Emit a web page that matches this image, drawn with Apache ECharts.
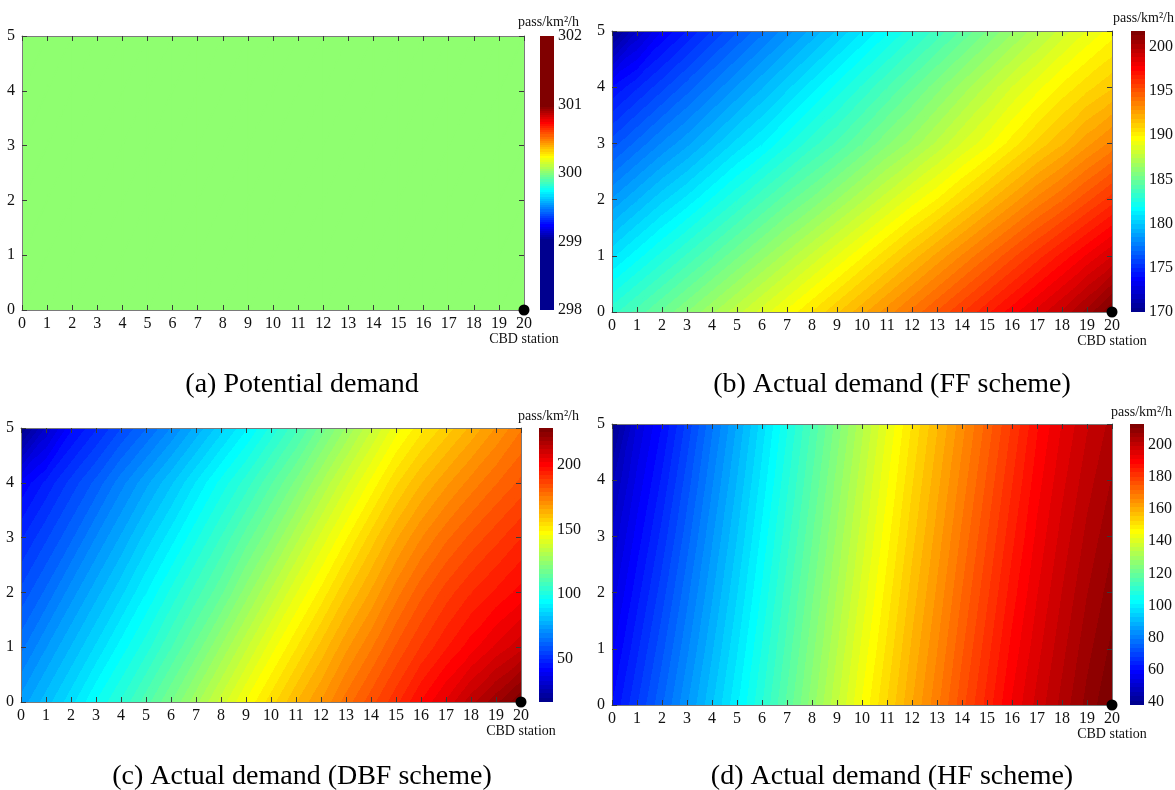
<!DOCTYPE html>
<html>
<head>
<meta charset="utf-8">
<title>Demand distribution</title>
<script src="https://cdn.jsdelivr.net/npm/echarts@6/dist/echarts.min.js"></script>
<style>
  html, body { margin: 0; padding: 0; background: #fff; }
  #chart { width: 1175px; height: 790px; }
</style>
</head>
<body>
<div id="chart"></div>
<script>
// Grid nodes of the corridor (km)
const xTicks = [0, 1, 2, 3, 4, 5, 6, 7, 8, 9, 10, 11, 12, 13, 14, 15, 16, 17, 18, 19, 20];
const yTicks = [0, 1, 2, 3, 4, 5];
const stationPos = [20, 0];

// Demand at the grid nodes, one row per yTicks value (first row is y = 0)
const demandA = [
  [300, 300, 300, 300, 300, 300, 300, 300, 300, 300, 300, 300, 300, 300, 300, 300, 300, 300, 300, 300, 300],
  [300, 300, 300, 300, 300, 300, 300, 300, 300, 300, 300, 300, 300, 300, 300, 300, 300, 300, 300, 300, 300],
  [300, 300, 300, 300, 300, 300, 300, 300, 300, 300, 300, 300, 300, 300, 300, 300, 300, 300, 300, 300, 300],
  [300, 300, 300, 300, 300, 300, 300, 300, 300, 300, 300, 300, 300, 300, 300, 300, 300, 300, 300, 300, 300],
  [300, 300, 300, 300, 300, 300, 300, 300, 300, 300, 300, 300, 300, 300, 300, 300, 300, 300, 300, 300, 300],
  [300, 300, 300, 300, 300, 300, 300, 300, 300, 300, 300, 300, 300, 300, 300, 300, 300, 300, 300, 300, 300]
];
const demandB = [
  [183.2, 184.1, 185.0, 185.9, 186.8, 187.7, 188.6, 189.5, 190.4, 191.3, 192.2, 193.1, 194.0, 194.9, 195.8, 196.7, 197.6, 198.5, 199.4, 200.5, 201.8],
  [180.8, 181.7, 182.6, 183.5, 184.4, 185.3, 186.2, 187.1, 188.0, 188.9, 189.8, 190.7, 191.6, 192.5, 193.4, 194.3, 195.2, 196.1, 197.0, 197.9, 198.8],
  [178.5, 179.4, 180.3, 181.1, 182.0, 182.9, 183.8, 184.7, 185.5, 186.4, 187.3, 188.2, 189.1, 189.9, 190.8, 191.7, 192.6, 193.5, 194.3, 195.2, 196.1],
  [176.2, 177.1, 178.0, 178.8, 179.7, 180.6, 181.4, 182.3, 183.2, 184.0, 184.9, 185.8, 186.6, 187.5, 188.4, 189.2, 190.1, 191.0, 191.8, 192.7, 193.5],
  [174.0, 174.9, 175.8, 176.7, 177.6, 178.5, 179.4, 180.3, 181.2, 182.1, 183.0, 183.9, 184.8, 185.7, 186.6, 187.5, 188.4, 189.2, 190.0, 190.7, 191.3],
  [170.0, 172.0, 173.5, 174.5, 175.5, 176.4, 177.3, 178.2, 179.1, 180.0, 180.9, 181.8, 182.7, 183.6, 184.5, 185.4, 186.3, 187.2, 188.1, 188.9, 189.6]
];
const demandC = [
  [74, 81, 88, 96, 103, 111, 119, 128, 137, 146, 154, 162, 169, 177, 184, 191, 199, 206, 214, 221, 228.5],
  [65, 72.5, 79.5, 86.5, 94, 101, 109, 117, 126, 135, 144, 152, 160, 168, 175, 182.5, 189, 195, 200.5, 206, 211],
  [57, 63.5, 71, 78, 85, 92.5, 100, 107.5, 115, 124, 133, 142, 150, 158.5, 166, 174, 181, 187, 192, 196, 200],
  [49, 55.5, 62, 69.5, 76.5, 84, 91, 98.5, 106, 114, 122, 131, 140, 148.5, 157, 165, 172, 178, 183, 187.5, 192],
  [40, 47, 54, 60.5, 68, 75, 82, 89.5, 97, 104, 112, 120, 129, 138, 146.5, 155, 162, 168, 173.5, 178.5, 183],
  [16.3, 30, 42, 49, 56, 62.5, 69.5, 77, 84.5, 92, 100, 108, 117, 126, 135, 144, 151, 157, 163, 169, 175]
];
const demandD = [
  [60, 68, 76, 84.3, 92.4, 100.5, 109, 118, 127, 136, 145, 153, 161, 168.5, 176.5, 184, 191.5, 197.5, 203, 208.5, 213],
  [56.5, 64.8, 72.8, 81.2, 89.6, 97.9, 106.6, 115.6, 124.6, 133.6, 142.6, 150.8, 158.9, 166.4, 174.3, 181.8, 189.3, 195.6, 201.2, 206.6, 211],
  [53, 61.6, 69.6, 78.2, 86.8, 95.3, 104.1, 113.2, 122.2, 131.2, 140.2, 148.6, 156.8, 164.3, 172.1, 179.6, 187.1, 193.7, 199.4, 204.7, 209],
  [49.5, 58.4, 66.4, 75.1, 84.1, 92.7, 101.7, 110.8, 119.8, 128.8, 137.8, 146.4, 154.6, 162.2, 169.9, 177.4, 184.9, 191.8, 197.6, 202.8, 207],
  [45.5, 55.2, 63.2, 72.1, 81.3, 90.1, 99.2, 108.4, 117.4, 126.4, 135.4, 144.2, 152.5, 160.1, 167.7, 175.2, 182.7, 189.9, 195.8, 200.9, 205],
  [39, 52, 60, 69, 78.5, 87.5, 96.8, 106, 115, 124, 133, 142, 150.4, 158, 165.5, 173, 180.5, 188, 194, 199, 203]
];

// Colour bars: shown range, tick labels, and the part of the range the colormap spans
const barRangeA = [298, 302];
const barTicksA = [298, 299, 300, 301, 302];
const colorRangeA = [299, 301];
const barRangeB = [170, 201.8];
const barTicksB = [170, 175, 180, 185, 190, 195, 200];
const barRangeC = [16.3, 228.5];
const barTicksC = [50, 100, 150, 200];
const barRangeD = [38.1, 213];
const barTicksD = [40, 60, 80, 100, 120, 140, 160, 180, 200];

const captions = ['(a) Potential demand', '(b) Actual demand (FF scheme)',
  '(c) Actual demand (DBF scheme)', '(d) Actual demand (HF scheme)'];
const unitLabel = 'pass/km²/h';
const stationLabel = 'CBD station';

const panels = [
  { field: demandA, bar: barRangeA, ticks: barTicksA, colors: colorRangeA },
  { field: demandB, bar: barRangeB, ticks: barTicksB, colors: barRangeB },
  { field: demandC, bar: barRangeC, ticks: barTicksC, colors: barRangeC },
  { field: demandD, bar: barRangeD, ticks: barTicksD, colors: barRangeD }
];

// pixel layout of each panel: [left, top, width, height]
const layouts = [
  { plot: [22, 36, 502, 274], bar: [540, 36, 14, 274], unit: [579, 22], caption: [302, 385] },
  { plot: [612, 31, 500, 281], bar: [1131, 31, 14, 281], unit: [1174, 18], caption: [892, 385] },
  { plot: [21, 428, 500, 274], bar: [539, 428, 14, 274], unit: [579, 416], caption: [302, 777] },
  { plot: [612, 424, 500, 281], bar: [1130, 424, 14, 281], unit: [1172, 412], caption: [892, 777] }
];

const serif = '"Liberation Serif", "Times New Roman", Times, serif';

// MATLAB style jet(64)
const jet64 = (function () {
  const n = 16, u = [];
  for (let i = 1; i <= n; i++) u.push(i / n);
  for (let i = 0; i < n - 1; i++) u.push(1);
  for (let i = n; i >= 1; i--) u.push(i / n);
  const out = [];
  for (let k = 1; k <= 64; k++) {
    const ch = off => { const j = k - off; return (j >= 1 && j <= u.length) ? u[j - 1] : 0; };
    out.push('rgb(' + Math.round(ch(24) * 255) + ',' + Math.round(ch(8) * 255) + ',' + Math.round(ch(-8) * 255) + ')');
  }
  return out;
})();

function bandIndex(v, range) {
  const t = (v - range[0]) / (range[1] - range[0]);
  return Math.min(63, Math.max(0, Math.floor(t * 64)));
}

// hard edged colour stops between value vS (offset 0) and vE (offset 1), vS < vE
function bandStops(vS, vE, range) {
  const step = (range[1] - range[0]) / 64;
  const stops = [];
  let o = 0;
  while (o < 1) {
    const k = bandIndex(vS + (o + 1e-7) * (vE - vS), range);
    let ob = k >= 63 ? 1 : (range[0] + (k + 1) * step - vS) / (vE - vS);
    ob = Math.min(1, Math.max(ob, o + 1e-7));
    stops.push({ offset: o, color: jet64[k] }, { offset: ob, color: jet64[k] });
    o = ob;
  }
  return stops;
}

function triangle(pts, range) {
  const a = pts[0], b = pts[1], c = pts[2];
  const bx = b.p[0] - a.p[0], by = b.p[1] - a.p[1];
  const cx = c.p[0] - a.p[0], cy = c.p[1] - a.p[1];
  const dvb = b.v - a.v, dvc = c.v - a.v;
  const det = bx * cy - by * cx;
  const gx = (dvb * cy - by * dvc) / det;
  const gy = (bx * dvc - cx * dvb) / det;
  const mag = Math.hypot(gx, gy);
  let fill;
  if (mag < 1e-9) {
    fill = jet64[bandIndex(a.v, range)];
  } else {
    const ux = gx / mag, uy = gy / mag;
    const ts = pts.map(q => (q.p[0] - a.p[0]) * ux + (q.p[1] - a.p[1]) * uy);
    const tMin = Math.min(...ts), tMax = Math.max(...ts);
    fill = new echarts.graphic.LinearGradient(
      a.p[0] + tMin * ux, a.p[1] + tMin * uy, a.p[0] + tMax * ux, a.p[1] + tMax * uy,
      bandStops(a.v + tMin * mag, a.v + tMax * mag, range), true);
  }
  // stroke with the same paint hides the anti-aliasing seams between triangles
  return { type: 'polygon', shape: { points: pts.map(q => q.p) }, style: { fill: fill, stroke: fill, lineWidth: 1.6 } };
}

function fieldCells(field) {
  const cells = [];
  for (let j = 0; j < yTicks.length - 1; j++) {
    for (let i = 0; i < xTicks.length - 1; i++) {
      cells.push([xTicks[i], yTicks[j], xTicks[i + 1], yTicks[j + 1],
        field[j][i], field[j][i + 1], field[j + 1][i], field[j + 1][i + 1]]);
    }
  }
  return cells;
}

const option = { animation: false, grid: [], xAxis: [], yAxis: [], series: [], graphic: [] };

const frameLine = { show: true, onZero: false, lineStyle: { color: '#7a7a7a', width: 1 } };
const innerTick = { show: true, inside: true, length: 5, lineStyle: { color: '#3a3a3a', width: 1 } };
const tickFont = { color: '#111', fontFamily: serif, fontSize: 16 };

panels.forEach(function (panel, k) {
  const lay = layouts[k];
  option.grid.push({ left: lay.plot[0], top: lay.plot[1], width: lay.plot[2], height: lay.plot[3], outerBoundsMode: 'none' });
  option.grid.push({ left: lay.bar[0], top: lay.bar[1], width: lay.bar[2], height: lay.bar[3], outerBoundsMode: 'none' });

  const xBase = { type: 'value', min: xTicks[0], max: xTicks[xTicks.length - 1], interval: xTicks[1] - xTicks[0],
    z: 5, axisLine: frameLine, axisTick: innerTick, splitLine: { show: false } };
  const yBase = { type: 'value', min: yTicks[0], max: yTicks[yTicks.length - 1], interval: yTicks[1] - yTicks[0],
    z: 5, axisLine: frameLine, axisTick: innerTick, splitLine: { show: false } };

  option.xAxis.push(Object.assign({}, xBase, {
    gridIndex: 2 * k, position: 'bottom',
    axisLabel: Object.assign({}, tickFont, { margin: 6, showMinLabel: true, showMaxLabel: true })
  }));
  option.xAxis.push(Object.assign({}, xBase, { gridIndex: 2 * k, position: 'top', axisLabel: { show: false } }));
  option.xAxis.push({ gridIndex: 2 * k + 1, type: 'value', min: 0, max: 1, show: false });

  option.yAxis.push(Object.assign({}, yBase, {
    gridIndex: 2 * k, position: 'left', axisLabel: Object.assign({}, tickFont, { margin: 7, showMinLabel: true, showMaxLabel: true })
  }));
  option.yAxis.push(Object.assign({}, yBase, { gridIndex: 2 * k, position: 'right', axisLabel: { show: false } }));
  option.yAxis.push({
    gridIndex: 2 * k + 1, type: 'value', position: 'right', min: panel.bar[0], max: panel.bar[1],
    axisLine: { show: false }, axisTick: { show: false }, splitLine: { show: false },
    axisLabel: Object.assign({}, tickFont, { margin: 4, customValues: panel.ticks })
  });

  option.series.push({
    type: 'custom', xAxisIndex: 3 * k, yAxisIndex: 3 * k, silent: true, clip: true, z: 2,
    encode: { x: [0, 2], y: [1, 3] },
    data: fieldCells(panel.field),
    renderItem: function (params, api) {
      const x0 = api.value(0), y0 = api.value(1), x1 = api.value(2), y1 = api.value(3);
      const c00 = { p: api.coord([x0, y0]), v: api.value(4) };
      const c10 = { p: api.coord([x1, y0]), v: api.value(5) };
      const c01 = { p: api.coord([x0, y1]), v: api.value(6) };
      const c11 = { p: api.coord([x1, y1]), v: api.value(7) };
      return { type: 'group', children: [triangle([c00, c10, c11], panel.colors), triangle([c00, c11, c01], panel.colors)] };
    }
  });

  // the CBD station: black dot with its name under the "20" tick label
  option.series.push({
    type: 'scatter', xAxisIndex: 3 * k, yAxisIndex: 3 * k, silent: true, clip: false, z: 10,
    data: [stationPos], symbolSize: 11, itemStyle: { color: '#000', opacity: 1 },
    label: { show: true, position: 'bottom', distance: 17, formatter: stationLabel,
      fontFamily: serif, fontSize: 14, color: '#111' }
  });

  option.series.push({
    type: 'custom', xAxisIndex: 3 * k + 2, yAxisIndex: 3 * k + 2, silent: true,
    encode: { x: [0, 2], y: [1, 3] },
    data: [[0, panel.bar[0], 1, panel.bar[1]]],
    renderItem: function (params, api) {
      const p0 = api.coord([api.value(0), api.value(1)]);
      const p1 = api.coord([api.value(2), api.value(3)]);
      const fill = new echarts.graphic.LinearGradient(p0[0], p0[1], p0[0], p1[1],
        bandStops(api.value(1), api.value(3), panel.colors), true);
      return { type: 'rect', shape: { x: p0[0], y: p1[1], width: p1[0] - p0[0], height: p0[1] - p1[1] }, style: { fill: fill } };
    }
  });

  option.graphic.push({
    type: 'text', x: lay.unit[0], y: lay.unit[1], silent: true,
    style: { text: unitLabel, fontFamily: serif, fontSize: 14, fill: '#111', align: 'right', verticalAlign: 'middle' }
  });
  option.graphic.push({
    type: 'text', x: lay.caption[0], y: lay.caption[1], silent: true,
    style: { text: captions[k], fontFamily: serif, fontSize: 28, fill: '#000', align: 'center', verticalAlign: 'middle' }
  });
});

const chart = echarts.init(document.getElementById('chart'), null, { renderer: 'canvas' });
chart.setOption(option);
</script>
</body>
</html>
